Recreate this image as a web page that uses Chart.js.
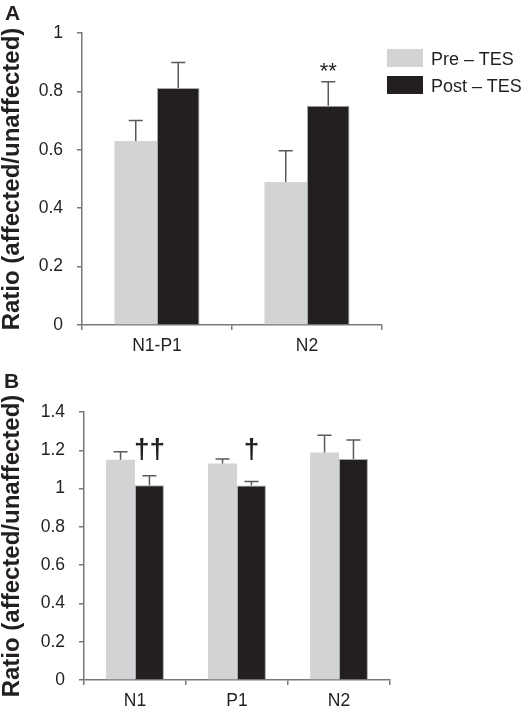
<!DOCTYPE html>
<html>
<head>
<meta charset="utf-8">
<script src="https://cdn.jsdelivr.net/npm/chart.js@4.4.1/dist/chart.umd.min.js"></script>
<style>
    body { margin: 0; background: #fff; width: 523px; height: 707px; position: relative; overflow: hidden;
           font-family: "Liberation Sans", Arial, sans-serif; color: #231f20; }
    canvas { position: absolute; left: 0; }
    #chartA { top: 0; }
    #chartB { top: 360px; }
    .panel { position: absolute; font-weight: bold; font-size: 21px; line-height: 1; }
    .legend-box { position: absolute; left: 387px; width: 36px; height: 17px; }
    .legend-text { position: absolute; left: 431px; font-size: 18px; line-height: 1; white-space: nowrap; }
</style>
</head>
<body>
<canvas id="chartA" width="523" height="360"></canvas>
<canvas id="chartB" width="523" height="347"></canvas>
<div class="panel" style="left:5px;top:2px">A</div>
<div class="panel" style="left:4px;top:370px">B</div>
<div id="legend"></div>
<script>
// ==================== ДАННЫЕ ====================

const seriesNames = ['Pre – TES', 'Post – TES'];
const seriesColors = ['#d1d3d4', '#231f20'];
const yTitle = 'Ratio (affected/unaffected)';

// Панель A
const categoriesA = ['N1-P1', 'N2'];
const preA = [0.63, 0.49];
const preErrA = [0.07, 0.107];
const postA = [0.812, 0.751];
const postErrA = [0.087, 0.082];
const marksA = ['', '**'];
const markLevelA = 0.845;
const ticksA = [0, 0.2, 0.4, 0.6, 0.8, 1];

// Панель B
const categoriesB = ['N1', 'P1', 'N2'];
const preB = [1.15, 1.131, 1.189];
const preErrB = [0.042, 0.023, 0.089];
const postB = [1.018, 1.016, 1.154];
const postErrB = [0.049, 0.021, 0.1];
const marksB = ['††', '†', ''];
const markLevelB = 1.16;
const ticksB = [0, 0.2, 0.4, 0.6, 0.8, 1, 1.2, 1.4];

// ==================== ОФОРМЛЕНИЕ ====================

const axisColor = '#77787b';
const textColor = '#231f20';
const errColor = '#58595b';

Chart.defaults.font.family = '"Liberation Sans", Arial, sans-serif';

/**
 * Планки погрешностей и значки значимости
 */
const errorBars = {
    id: 'errorBars',
    afterDatasetsDraw(chart, args, opts) {
        const ctx = chart.ctx;
        const yScale = chart.scales.y;
        ctx.save();
        ctx.strokeStyle = errColor;
        ctx.lineWidth = 1.5;
        chart.data.datasets.forEach((ds, i) => {
            const meta = chart.getDatasetMeta(i);
            meta.data.forEach((bar, j) => {
                const top = yScale.getPixelForValue(ds.data[j] + ds.errors[j]);
                ctx.beginPath();
                ctx.moveTo(bar.x, bar.y);
                ctx.lineTo(bar.x, top);
                ctx.moveTo(bar.x - 7, top);
                ctx.lineTo(bar.x + 7, top);
                ctx.stroke();

                if (ds.marks && ds.marks[j]) {
                    ctx.fillStyle = textColor;
                    ctx.font = opts.markFont;
                    ctx.textAlign = 'center';
                    ctx.textBaseline = 'alphabetic';
                    ctx.fillText(ds.marks[j], bar.x, yScale.getPixelForValue(opts.level));
                }
            });
        });
        ctx.restore();
    }
};

function makeChart(id, cfg) {
    const canvas = document.getElementById(id);
    const W = canvas.width, H = canvas.height;
    return new Chart(canvas, {
        type: 'bar',
        data: {
            labels: cfg.labels,
            datasets: [{
                label: seriesNames[0],
                data: cfg.pre,
                errors: cfg.preErr,
                backgroundColor: seriesColors[0],
                borderWidth: 0
            }, {
                label: seriesNames[1],
                data: cfg.post,
                errors: cfg.postErr,
                marks: cfg.marks,
                backgroundColor: seriesColors[1],
                borderColor: '#a7a9ac',
                borderWidth: 1
            }]
        },
        options: {
            responsive: false,
            animation: false,
            devicePixelRatio: 1,
            layout: { padding: { left: 0, top: cfg.area.top, right: W - cfg.area.right, bottom: 0 } },
            datasets: { bar: { categoryPercentage: 0.567, barPercentage: 1 } },
            plugins: {
                legend: { display: false },
                tooltip: { enabled: false },
                errorBars: { level: cfg.level, markFont: cfg.markFont }
            },
            scales: {
                x: {
                    grid: { drawOnChartArea: false, tickLength: 5, color: axisColor, lineWidth: 1.5, offset: true },
                    border: { color: axisColor, width: 1.5 },
                    ticks: { color: textColor, font: { size: 17.5 }, padding: 6, maxRotation: 0 },
                    afterFit: s => { s.height = H - cfg.area.bottom; }
                },
                y: {
                    min: cfg.ticks[0],
                    max: cfg.ticks[cfg.ticks.length - 1],
                    ticks: {
                        stepSize: cfg.ticks[1] - cfg.ticks[0],
                        color: textColor,
                        font: { size: 17.5 },
                        padding: 14,
                        callback: v => String(+v.toFixed(1))
                    },
                    grid: { drawOnChartArea: false, tickLength: 5, color: axisColor, lineWidth: 1.5 },
                    border: { color: axisColor, width: 1.5 },
                    title: {
                        display: true,
                        text: yTitle,
                        color: textColor,
                        font: { size: 24, weight: 'bold', lineHeight: 1 },
                        padding: 0
                    },
                    afterFit: s => { s.width = cfg.area.left; }
                }
            }
        },
        plugins: [errorBars]
    });
}

makeChart('chartA', {
    labels: categoriesA, pre: preA, preErr: preErrA, post: postA, postErr: postErrA,
    marks: marksA, level: markLevelA, ticks: ticksA, markFont: '22px "Liberation Sans", Arial',
    area: { left: 82, right: 382, top: 33, bottom: 325 }
});

makeChart('chartB', {
    labels: categoriesB, pre: preB, preErr: preErrB, post: postB, postErr: postErrB,
    marks: marksB, level: markLevelB, ticks: ticksB, markFont: 'bold 28px "Liberation Sans", Arial',
    area: { left: 84, right: 390, top: 52, bottom: 320 }
});

// Легенда
const legend = document.getElementById('legend');
seriesNames.forEach((name, i) => {
    const box = document.createElement('div');
    box.className = 'legend-box';
    box.style.top = (49 + i * 27) + 'px';
    box.style.height = '18px';
    box.style.background = seriesColors[i];
    const txt = document.createElement('div');
    txt.className = 'legend-text';
    txt.style.top = (50 + i * 27) + 'px';
    txt.textContent = name;
    legend.appendChild(box);
    legend.appendChild(txt);
});
</script>
</body>
</html>
